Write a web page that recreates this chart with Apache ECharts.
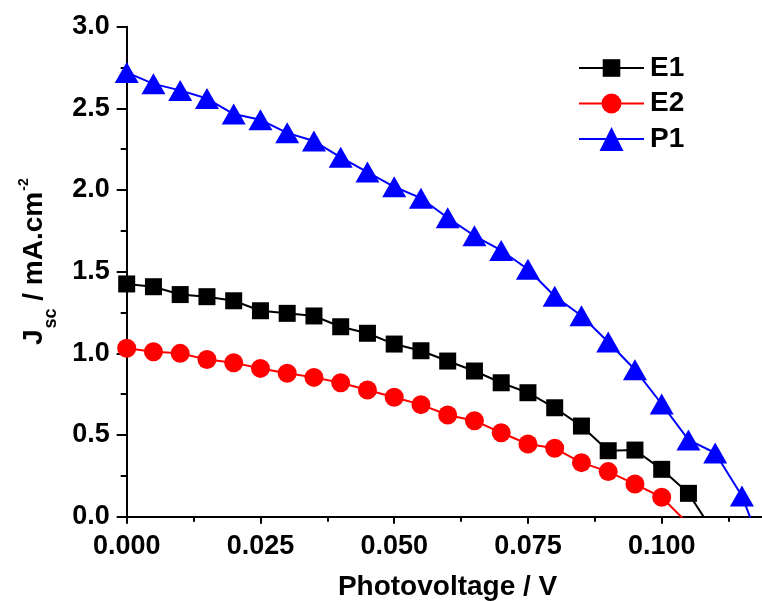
<!DOCTYPE html>
<html><head><meta charset="utf-8">
<script src="https://cdn.jsdelivr.net/npm/echarts@6/dist/echarts.min.js"></script>
<style>html,body{margin:0;padding:0;background:#fff}#c{width:762px;height:601px}</style>
</head><body><div id="c"></div>
<script>
const voltage = [0,0.005,0.010,0.015,0.020,0.025,0.030,0.035,0.040,0.045,0.050,0.055,0.060,0.065,0.070,0.075,0.080,0.085,0.090,0.095,0.100,0.105,0.110,0.115,0.120];
const e1 = [1.425,1.408,1.36,1.347,1.322,1.261,1.245,1.229,1.163,1.123,1.057,1.016,0.953,0.892,0.82,0.759,0.667,0.555,0.404,0.408,0.29,0.143,-0.11];
const e2 = [1.031,1.01,1.0,0.963,0.943,0.908,0.878,0.853,0.82,0.776,0.731,0.686,0.623,0.588,0.514,0.445,0.419,0.331,0.276,0.20,0.119,-0.045];
const p1 = [2.72,2.65,2.61,2.56,2.465,2.43,2.35,2.30,2.20,2.11,2.02,1.95,1.83,1.72,1.63,1.515,1.35,1.23,1.07,0.90,0.69,0.47,0.39,0.127,-0.3];
const seriesNames = ['E1','E2','P1'];
const xTickLabels = ['0.000','0.025','0.050','0.075','0.100'];
const yTickLabels = ['0.0','0.5','1.0','1.5','2.0','2.5','3.0'];

const FONT = "'Liberation Sans', Arial, sans-serif";
const pairs = arr => arr.map((v, i) => [voltage[i], v]);

const chart = echarts.init(document.getElementById('c'), null, {renderer: 'canvas'});
const legendBase = {
  left: 578, orient: 'vertical', padding: 0, itemWidth: 65, itemGap: 0,
  textStyle: {fontSize: 28, fontWeight: 'bold', color: '#000', fontFamily: FONT, padding: [0,0,0,1]},
  lineStyle: {width: 2},
  selectedMode: false
};
chart.setOption({
  animation: false,
  backgroundColor: '#fff',
  grid: {left: 126.7, top: 26.7, width: 668.75, height: 490, outerBoundsMode: 'none', containLabel: false},
  legend: [
    Object.assign({}, legendBase, {data: [seriesNames[0]], top: 69 - 15, itemHeight: 22}),
    Object.assign({}, legendBase, {data: [seriesNames[1]], top: 104.5 - 15, itemHeight: 25}),
    Object.assign({}, legendBase, {data: [seriesNames[2]], top: 140 - 15, itemHeight: 30})
  ],
  xAxis: {
    type: 'value', min: 0, max: 0.125, interval: 0.025,
    name: 'Photovoltage / V', nameLocation: 'middle', nameGap: 57,
    nameTextStyle: {fontSize: 28, fontWeight: 'bold', color: '#000', fontFamily: FONT, padding: [0, 27, 0, 0]},
    axisLine: {show: true, onZero: false, lineStyle: {color: '#000', width: 2}},
    axisTick: {show: true, inside: false, length: 7, lineStyle: {color: '#000', width: 2}},
    minorTick: {show: true, splitNumber: 2, length: 5, lineStyle: {color: '#000', width: 2}},
    splitLine: {show: false}, minorSplitLine: {show: false},
    axisLabel: {
      showMaxLabel: false, margin: 16, fontSize: 27, fontWeight: 'bold', color: '#000', fontFamily: FONT,
      formatter: v => { const i = Math.round(v / 0.025); return (Math.abs(v - i*0.025) < 1e-9 && i < xTickLabels.length) ? xTickLabels[i] : ''; }
    }
  },
  yAxis: {
    type: 'value', min: 0, max: 3, interval: 0.5,
    name: '{j|J}{b|sc}{a| / mA.cm}{c|-2}', nameLocation: 'middle', nameGap: 77,
    nameTextStyle: {
      color: '#000', fontFamily: FONT,
      rich: {
        j: {fontSize: 28, fontWeight: 'bold', color: '#000', fontFamily: FONT, lineHeight: 30, padding: [0,0,0,20]},
        a: {fontSize: 28, fontWeight: 'bold', color: '#000', fontFamily: FONT, lineHeight: 30},
        b: {fontSize: 18, fontWeight: 'bold', color: '#000', fontFamily: FONT, lineHeight: 18, padding: [32,0,0,1]},
        c: {fontSize: 14, fontWeight: 'bold', color: '#000', fontFamily: FONT, lineHeight: 14, padding: [0,0,22,1]}
      }
    },
    axisLine: {show: true, lineStyle: {color: '#000', width: 2}},
    axisTick: {show: true, inside: false, length: 10, lineStyle: {color: '#000', width: 2}},
    minorTick: {show: true, splitNumber: 2, length: 6, lineStyle: {color: '#000', width: 2}},
    splitLine: {show: false}, minorSplitLine: {show: false},
    axisLabel: {
      margin: 17, fontSize: 27, fontWeight: 'bold', color: '#000', fontFamily: FONT,
      formatter: v => { const i = Math.round(v / 0.5); return yTickLabels[i] || ''; }
    }
  },
  series: [
    {name: seriesNames[0], type: 'line', data: pairs(e1), symbol: 'rect', symbolSize: 17, clip: true,
     itemStyle: {color: '#000'}, lineStyle: {color: '#000', width: 2}, z: 3},
    {name: seriesNames[1], type: 'line', data: pairs(e2), symbol: 'circle', symbolSize: 19, clip: true,
     itemStyle: {color: '#ff0000'}, lineStyle: {color: '#ff0000', width: 2}, z: 2},
    {name: seriesNames[2], type: 'line', data: pairs(p1), symbol: 'triangle', symbolSize: [24, 21], clip: true,
     itemStyle: {color: '#0000ff'}, lineStyle: {color: '#0000ff', width: 2}, z: 4}
  ]
});
</script>
</body></html>
